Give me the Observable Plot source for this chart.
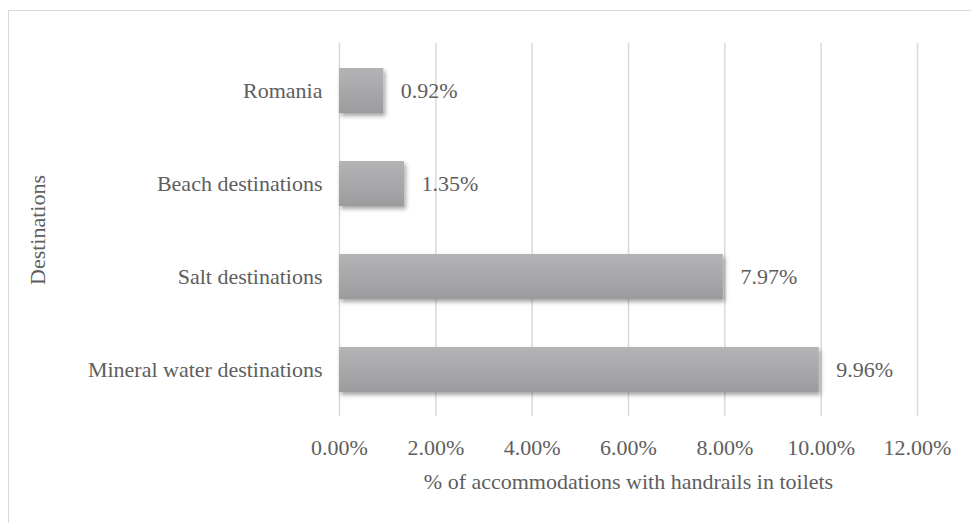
<!DOCTYPE html>
<html><head><meta charset="utf-8">
<script src="https://cdn.jsdelivr.net/npm/d3@7"></script>
<script src="https://cdn.jsdelivr.net/npm/@observablehq/plot@0.6"></script>
<style>
html,body{margin:0;padding:0;background:#fff;overflow:hidden}
#frame{position:absolute;left:8px;top:10px;width:1000px;height:600px;border-left:1.5px solid #d9d9d9;border-top:1.5px solid #d9d9d9}
#chart{position:absolute;left:0;top:0}
</style></head><body>
<div id="frame"></div><div id="chart"></div>
<script>
const categories = ["Romania", "Beach destinations", "Salt destinations", "Mineral water destinations"];
const values = [0.92, 1.35, 7.97, 9.96];
const xTicks = [0, 2, 4, 6, 8, 10, 12];
const xLabel = "% of accommodations with handrails in toilets";
const yLabel = "Destinations";

const data = categories.map((c, i) => ({category: c, value: values[i]}));
const fmt = d => d.toFixed(2) + "%";
const textColor = "#5e5e5e";

const chart = Plot.plot({
  width: 971, height: 523,
  marginLeft: 339, marginRight: 54, marginTop: 43, marginBottom: 107,
  style: {fontFamily: "'Liberation Serif', 'Times New Roman', serif", fontSize: "22px", color: textColor, background: "transparent"},
  x: {domain: [0, 12], ticks: xTicks, tickFormat: fmt, tickSize: 0, tickPadding: 23, label: null},
  y: {domain: categories, paddingInner: 0.52, paddingOuter: 0.26, tickSize: 0, tickPadding: 17, label: null},
  marks: [
    Plot.ruleX(xTicks, {stroke: "#d9d9d9", strokeWidth: 1.5}),
    Plot.barX(data, {x: "value", y: "category", fill: "#a8a8aa"}),
    Plot.text(data, {x: "value", y: "category", text: d => fmt(d.value), textAnchor: "start", dx: 17, fill: textColor}),
    Plot.text([xLabel], {frameAnchor: "bottom", textAnchor: "middle", lineAnchor: "middle", dy: 65, fill: textColor}),
    Plot.text([yLabel], {frameAnchor: "left", textAnchor: "middle", lineAnchor: "middle", dx: -302, rotate: -90, fill: textColor})
  ]
});
document.getElementById("chart").appendChild(chart);

// gradient + shadow styling for bars
const svg = chart.tagName.toLowerCase() === "svg" ? chart : chart.querySelector("svg");
const ns = "http://www.w3.org/2000/svg";
const defs = document.createElementNS(ns, "defs");
defs.innerHTML = `
<linearGradient id="barGrad" x1="0" y1="0" x2="0" y2="1">
  <stop offset="0" stop-color="#b4b4b6"/>
  <stop offset="1" stop-color="#9c9c9e"/>
</linearGradient>
<filter id="barShadow" x="-10%" y="-20%" width="130%" height="160%">
  <feDropShadow dx="2" dy="3" stdDeviation="2" flood-color="#000" flood-opacity="0.35"/>
</filter>`;
svg.insertBefore(defs, svg.firstChild);
const barG = svg.querySelector('g[aria-label="bar"]');
if (barG) {
  barG.setAttribute("fill", "url(#barGrad)");
  barG.setAttribute("filter", "url(#barShadow)");
  barG.querySelectorAll("rect").forEach(r => { r.removeAttribute("fill"); });
}
</script>
</body></html>
